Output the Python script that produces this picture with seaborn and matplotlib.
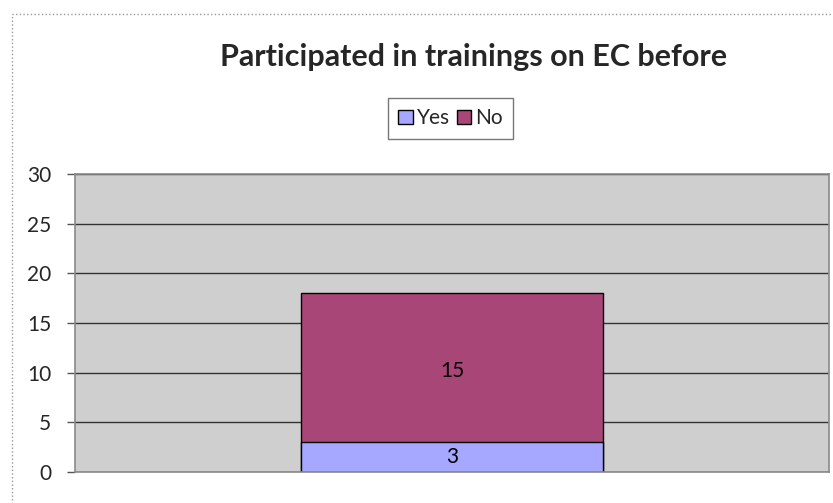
import matplotlib.pyplot as plt
import seaborn as sns
import pandas as pd
from matplotlib.patches import Rectangle, Patch

title = "Participated in trainings on EC before"
category = ["Participated"]
yes_values = [3]
no_values = [15]
y_ticks = [0, 5, 10, 15, 20, 25, 30]

yes_color = "#A6A8FF"
no_color = "#A84777"

df = pd.DataFrame({"cat": category, "Yes": yes_values, "No": no_values})
df["Total"] = df["Yes"] + df["No"]

sns.set_style("white")
plt.rcParams['font.family'] = ['Lato', 'DejaVu Sans']

fig = plt.figure(figsize=(8.33, 5.03), dpi=100)
ax = fig.add_axes([0.090, 0.0616, 0.905, 0.592])
ax.set_facecolor("#CFCFCF")

# stacked: total first (No on top), then Yes at bottom
sns.barplot(data=df, x="cat", y="Total", color=no_color, width=0.4,
            edgecolor="black", linewidth=1, ax=ax, saturation=1)
sns.barplot(data=df, x="cat", y="Yes", color=yes_color, width=0.4,
            edgecolor="black", linewidth=1, ax=ax, saturation=1)

for i, row in df.iterrows():
    ax.text(i, row["Yes"] / 2, str(row["Yes"]), ha="center", va="center",
            fontsize=15, color="black")
    ax.text(i, row["Yes"] + row["No"] / 2 - 0.3, str(row["No"]), ha="center",
            va="center", fontsize=15, color="black")

ax.set_ylim(0, 30)
ax.set_xlim(-0.5, 0.5)
ax.set_yticks(y_ticks)
ax.set_yticklabels([str(t) for t in y_ticks], fontsize=15)
ax.set_xticks([])
ax.set_xlabel("")
ax.set_ylabel("")
ax.yaxis.grid(True, color="#333333", linewidth=1)
ax.set_axisbelow(True)
ax.tick_params(axis="y", left=True, length=6, width=1, color="#555555", pad=11)
for s in ax.spines.values():
    s.set_color("#8A8A8A")
    s.set_linewidth(1.2)

fig.text(0.569, 0.886, title, ha="center", va="center", fontsize=22,
         fontweight="bold")

handles = [Patch(facecolor=yes_color, edgecolor="black", label="Yes"),
           Patch(facecolor=no_color, edgecolor="black", label="No")]
leg = fig.legend(handles=handles, loc="center", bbox_to_anchor=(0.541, 0.765),
                 ncol=2, fontsize=15, frameon=True, fancybox=False,
                 handlelength=0.7, handleheight=0.7, handletextpad=0.2,
                 columnspacing=0.3, borderpad=0.5)
leg.get_frame().set_edgecolor("#555555")
leg.get_frame().set_linewidth(1)

fig.patches.append(Rectangle((12 / 833, -0.1), 1.1, 1.1 - 14 / 503,
                             transform=fig.transFigure, fill=False,
                             edgecolor="#999999", linewidth=1, linestyle=":"))

fig.savefig("out.png", dpi=100)
